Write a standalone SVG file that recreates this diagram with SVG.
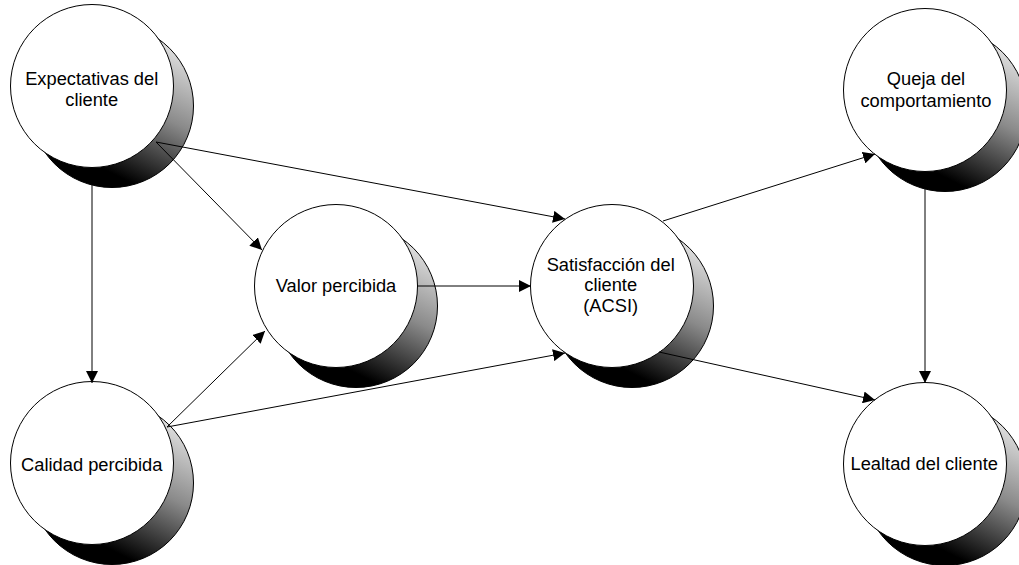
<svg xmlns="http://www.w3.org/2000/svg" width="1019" height="565" viewBox="0 0 1019 565">
  <style>
    .face { fill: #ffffff; stroke: #000000; stroke-width: 1; }
    .shade { fill: url(#shadeGrad); stroke: #000000; stroke-width: 1; }
    .label { font-family: "Liberation Sans", Arial, sans-serif; font-size: 18.3px; fill: #000000; text-anchor: middle; }
    .edge { fill: none; stroke: #000000; stroke-width: 1; marker-end: url(#arrow); }
  </style>
  <defs>
    <linearGradient id="shadeGrad" x1="0.8" y1="0" x2="0.3" y2="1">
      <stop offset="0" stop-color="#f2f2f2"/>
      <stop offset="0.45" stop-color="#8a8a8a"/>
      <stop offset="0.85" stop-color="#000000"/>
      <stop offset="1" stop-color="#000000"/>
    </linearGradient>
    <marker id="arrow" markerUnits="userSpaceOnUse" markerWidth="12" markerHeight="12" refX="12" refY="6" orient="auto">
      <path d="M0,0 L12,6 L0,12 Z" fill="#000000"/>
    </marker>
  </defs>

  <!-- nodes: shaded back disc with a white face on top -->
  <g id="node-expectativas">
    <circle class="shade" cx="112" cy="106" r="81.5"/>
    <circle class="face" cx="92" cy="86" r="81.5"/>
    <text class="label" x="91.7" y="85">Expectativas del</text>
    <text class="label" x="91.7" y="106">cliente</text>
  </g>
  <g id="node-calidad">
    <circle class="shade" cx="112" cy="483" r="81.5"/>
    <circle class="face" cx="92" cy="463" r="81.5"/>
    <text class="label" x="91.7" y="471">Calidad percibida</text>
  </g>
  <g id="node-valor">
    <circle class="shade" cx="356" cy="306" r="81.5"/>
    <circle class="face" cx="336" cy="286" r="81.5"/>
    <text class="label" x="336" y="292">Valor percibida</text>
  </g>
  <g id="node-satisfaccion">
    <circle class="shade" cx="632" cy="306" r="81.5"/>
    <circle class="face" cx="612" cy="286" r="81.5"/>
    <text class="label" x="610.7" y="270.5">Satisfacción del</text>
    <text class="label" x="610.7" y="291">cliente</text>
    <text class="label" x="610.7" y="311.5">(ACSI)</text>
  </g>
  <g id="node-queja">
    <circle class="shade" cx="945" cy="110" r="81.5"/>
    <circle class="face" cx="925" cy="90" r="81.5"/>
    <text class="label" x="926" y="85">Queja del</text>
    <text class="label" x="926" y="107">comportamiento</text>
  </g>
  <g id="node-lealtad">
    <circle class="shade" cx="945" cy="484" r="81.5"/>
    <circle class="face" cx="925" cy="464" r="81.5"/>
    <text class="label" x="924.2" y="470">Lealtad del cliente</text>
  </g>

  <!-- connectors -->
  <g id="connectors">
    <line class="edge" x1="92" y1="167.5" x2="92" y2="383"/>
    <line class="edge" x1="156" y1="142" x2="262" y2="250"/>
    <line class="edge" x1="156" y1="142" x2="565" y2="219"/>
    <line class="edge" x1="167" y1="427" x2="265" y2="331"/>
    <line class="edge" x1="167" y1="427" x2="565" y2="353"/>
    <line class="edge" x1="417.5" y1="286" x2="531" y2="286"/>
    <line class="edge" x1="663" y1="221" x2="875" y2="154"/>
    <line class="edge" x1="659" y1="352" x2="875" y2="400"/>
    <line class="edge" x1="925" y1="171.5" x2="925" y2="383"/>
  </g>
</svg>
